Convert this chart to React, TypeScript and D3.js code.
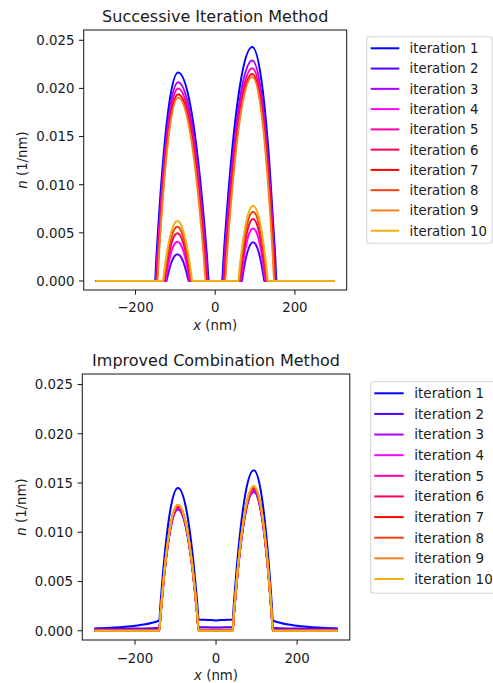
import React from "react";
import * as d3 from "d3";

// Legend labels and line colours, one per iteration
const ITERATION_LABELS = [
  "iteration 1", "iteration 2", "iteration 3", "iteration 4", "iteration 5",
  "iteration 6", "iteration 7", "iteration 8", "iteration 9", "iteration 10",
];
const ITERATION_COLORS = [
  "#0000ff", "#5500ff", "#aa00ff", "#ff00ff", "#ff00aa",
  "#ff0055", "#ff0000", "#f04010", "#f08020", "#eeb010",
];

const X_TICKS = [-200, 0, 200];
const Y_TICKS = [0, 0.005, 0.01, 0.015, 0.02, 0.025];
const X_DOMAIN = [-330, 330];
const Y_DOMAIN = [-0.00094, 0.02607];

// Successive iteration method: density profiles, [x (nm), n (10^-3 / nm)]
const sim1 = [[-300, 0], [-151, 0], [-147.5, 2.51], [-133.6, 11.04], [-116.2, 18.19], [-93, 21.65], [-62.2, 18.19], [-39.1, 11.04], [-20.6, 2.51], [-16, 0],
  [17, 0], [21.6, 2.82], [39.8, 12.39], [62.6, 20.41], [93, 24.3], [117.4, 20.41], [135.7, 12.39], [150.3, 2.82], [154, 0], [300, 0]];
const sim2 = [[-300, 0], [-122, 0], [-120.4, 0.32], [-113.9, 1.41], [-105.8, 2.33], [-95, 2.77], [-83.8, 2.33], [-75.4, 1.41], [-68.7, 0.32], [-67, 0],
  [67, 0], [68.7, 0.47], [75.4, 2.05], [83.8, 3.37], [95, 4.01], [106.2, 3.37], [114.6, 2.05], [121.3, 0.47], [123, 0], [300, 0]];
const sim3 = [[-300, 0], [-149, 0], [-145.6, 2.4], [-132.2, 10.53], [-115.4, 17.35], [-93, 20.65], [-63, 17.35], [-40.5, 10.53], [-22.5, 2.4], [-18, 0],
  [19, 0], [23.4, 2.66], [41.2, 11.68], [63.4, 19.24], [93, 22.9], [116.6, 19.24], [134.3, 11.68], [148.5, 2.66], [152, 0], [300, 0]];
const sim4 = [[-300, 0], [-125, 0], [-123.2, 0.47], [-116, 2.08], [-107, 3.43], [-95, 4.08], [-82.6, 3.43], [-73.3, 2.08], [-65.9, 0.47], [-64, 0],
  [64, 0], [65.9, 0.63], [73.3, 2.78], [82.6, 4.59], [95, 5.46], [107.4, 4.59], [116.7, 2.78], [124.1, 0.63], [126, 0], [300, 0]];
const sim5 = [[-300, 0], [-148, 0], [-144.7, 2.32], [-131.5, 10.2], [-115, 16.8], [-93, 20.0], [-63.8, 16.8], [-41.9, 10.2], [-24.4, 2.32], [-20, 0],
  [21, 0], [25.3, 2.56], [42.6, 11.27], [64.2, 18.56], [93, 22.1], [116.2, 18.56], [133.6, 11.27], [147.5, 2.56], [151, 0], [300, 0]];
const sim6 = [[-300, 0], [-127, 0], [-125.1, 0.57], [-117.4, 2.52], [-107.8, 4.16], [-95, 4.95], [-81.8, 4.16], [-71.9, 2.52], [-64, 0.57], [-62, 0],
  [62, 0], [64, 0.75], [71.9, 3.28], [81.8, 5.4], [95, 6.43], [108.2, 5.4], [118.1, 3.28], [126, 0.75], [128, 0], [300, 0]];
const sim7 = [[-300, 0], [-146, 0], [-142.8, 2.25], [-130.1, 9.89], [-114.2, 16.3], [-93, 19.4], [-64.6, 16.3], [-43.3, 9.89], [-26.3, 2.25], [-22, 0],
  [23, 0], [27.2, 2.49], [44, 10.97], [65, 18.06], [93, 21.5], [115.8, 18.06], [132.9, 10.97], [146.6, 2.49], [150, 0], [300, 0]];
const sim8 = [[-300, 0], [-129, 0], [-127, 0.65], [-118.8, 2.88], [-108.6, 4.74], [-95, 5.64], [-81, 4.74], [-70.5, 2.88], [-62.1, 0.65], [-60, 0],
  [60, 0], [62.1, 0.83], [70.5, 3.67], [81, 6.04], [95, 7.19], [109, 6.04], [119.5, 3.67], [127.9, 0.83], [130, 0], [300, 0]];
const sim9 = [[-300, 0], [-145, 0], [-141.9, 2.21], [-129.4, 9.72], [-113.8, 16.0], [-93, 19.05], [-65.4, 16.0], [-44.7, 9.72], [-28.1, 2.21], [-24, 0],
  [25, 0], [29.1, 2.46], [45.4, 10.81], [65.8, 17.81], [93, 21.2], [115, 17.81], [131.5, 10.81], [144.7, 2.46], [148, 0], [300, 0]];
const sim10 = [[-300, 0], [-131, 0], [-128.8, 0.72], [-120.2, 3.17], [-109.4, 5.22], [-95, 6.22], [-80.2, 5.22], [-69.1, 3.17], [-60.2, 0.72], [-58, 0],
  [58, 0], [60.2, 0.91], [69.1, 3.98], [80.2, 6.56], [95, 7.81], [109.8, 6.56], [120.9, 3.98], [129.8, 0.91], [132, 0], [300, 0]];
const SUCCESSIVE = [sim1, sim2, sim3, sim4, sim5, sim6, sim7, sim8, sim9, sim10];

// Improved combination method: shared x grid (nm) and n (10^-3 / nm) per iteration
const icmX = [-300, -250, -200, -160, -140, -137.2, -126.2, -112.4, -94, -73.6, -58.3, -46.1, -43, -20, 0, 20,
  41, 44.1, 56.6, 72.2, 93, 111.8, 125.9, 137.2, 140, 160, 200, 250, 300];
const icm1 = [0.22, 0.32, 0.5, 0.78, 1.05, 2.65, 7.93, 12.36, 14.5, 12.36, 7.93, 2.65, 1.15, 1.1, 1.05, 1.1,
  1.15, 2.86, 8.85, 13.87, 16.3, 13.87, 8.85, 2.86, 1.05, 0.78, 0.5, 0.32, 0.22];
const icm2 = [0.2, 0.2, 0.22, 0.25, 0.3, 1.43, 6.27, 10.33, 12.3, 10.33, 6.27, 1.43, 0.35, 0.35, 0.33, 0.35,
  0.35, 1.64, 7.19, 11.84, 14.1, 11.84, 7.19, 1.64, 0.3, 0.25, 0.22, 0.2, 0.2];
const icm3 = [0.1, 0.1, 0.1, 0.1, 0.1, 1.44, 6.32, 10.42, 12.4, 10.42, 6.32, 1.44, 0.1, 0.1, 0.1, 0.1,
  0.1, 1.65, 7.24, 11.93, 14.2, 11.93, 7.24, 1.65, 0.1, 0.1, 0.1, 0.1, 0.1];
const icm4 = [0.03, 0.03, 0.03, 0.03, 0.03, 1.45, 6.38, 10.5, 12.5, 10.5, 6.38, 1.45, 0.03, 0.03, 0.03, 0.03,
  0.03, 1.66, 7.29, 12.01, 14.3, 12.01, 7.29, 1.66, 0.03, 0.03, 0.03, 0.03, 0.03];
const icm5 = [0, 0, 0, 0, 0, 1.46, 6.43, 10.58, 12.6, 10.58, 6.43, 1.46, 0, 0, 0, 0,
  0, 1.67, 7.34, 12.1, 14.4, 12.1, 7.34, 1.67, 0, 0, 0, 0, 0];
const icm6 = [0, 0, 0, 0, 0, 1.47, 6.45, 10.63, 12.65, 10.63, 6.45, 1.47, 0, 0, 0, 0,
  0, 1.68, 7.4, 12.18, 14.5, 12.18, 7.4, 1.68, 0, 0, 0, 0, 0];
const icm7 = [0, 0, 0, 0, 0, 1.47, 6.48, 10.67, 12.7, 10.67, 6.48, 1.47, 0, 0, 0, 0,
  0, 1.69, 7.42, 12.22, 14.55, 12.22, 7.42, 1.69, 0, 0, 0, 0, 0];
const icm8 = [0, 0, 0, 0, 0, 1.48, 6.5, 10.71, 12.75, 10.71, 6.5, 1.48, 0, 0, 0, 0,
  0, 1.69, 7.45, 12.26, 14.6, 12.26, 7.45, 1.69, 0, 0, 0, 0, 0];
const icm9 = [0, 0, 0, 0, 0, 1.48, 6.53, 10.75, 12.8, 10.75, 6.53, 1.48, 0, 0, 0, 0,
  0, 1.7, 7.47, 12.31, 14.65, 12.31, 7.47, 1.7, 0, 0, 0, 0, 0];
const icm10 = [0, 0, 0, 0, 0, 1.48, 6.53, 10.75, 12.8, 10.75, 6.53, 1.48, 0, 0, 0, 0,
  0, 1.71, 7.5, 12.35, 14.7, 12.35, 7.5, 1.71, 0, 0, 0, 0, 0];
const IMPROVED = [icm1, icm2, icm3, icm4, icm5, icm6, icm7, icm8, icm9, icm10].map((ys) =>
  ys.map((v, i) => [icmX[i], v])
);

const FONT = "DejaVu Sans, sans-serif";
const TEXT = "#1a1a1a";

type Frame = { left: number; right: number; top: number; bottom: number };
type Legend = { left: number; top: number; width: number; height: number; firstRow: number; rowStep: number; lineX0: number; lineX1: number; textX: number; fontSize: number };

function Panel(props: {
  title: string;
  series: number[][][];
  frame: Frame;
  legend: Legend;
  titleY: number;
  xTickY: number;
  xLabelY: number;
  yLabelX: number;
}) {
  const { title, series, frame, legend } = props;
  const x = d3.scaleLinear().domain(X_DOMAIN).range([frame.left, frame.right]);
  const y = d3.scaleLinear().domain(Y_DOMAIN).range([frame.bottom, frame.top]);
  const line = d3
    .line<number[]>()
    .x((d) => x(d[0]))
    .y((d) => y(d[1] * 1e-3))
    .curve(d3.curveMonotoneX);
  const fmt = d3.format(".3f");
  const tickLen = 4.67;
  const midX = (frame.left + frame.right) / 2;
  const midY = (frame.top + frame.bottom) / 2;

  return (
    <g>
      <text x={midX} y={props.titleY} textAnchor="middle" fontSize={16} fontFamily={FONT} fill={TEXT}>
        {title}
      </text>
      {series.map((pts, i) => (
        <path key={i} d={line(pts) || ""} fill="none" stroke={ITERATION_COLORS[i]} strokeWidth={2} strokeLinejoin="round" />
      ))}
      <rect
        x={frame.left}
        y={frame.top}
        width={frame.right - frame.left}
        height={frame.bottom - frame.top}
        fill="none"
        stroke="#222"
        strokeWidth={1.07}
      />
      {X_TICKS.map((t) => (
        <g key={t}>
          <line x1={x(t)} x2={x(t)} y1={frame.bottom} y2={frame.bottom + tickLen} stroke="#222" strokeWidth={1.07} />
          <text x={x(t)} y={props.xTickY} textAnchor="middle" fontSize={13.33} fontFamily={FONT} fill={TEXT}>
            {t < 0 ? "\u2212" + Math.abs(t) : String(t)}
          </text>
        </g>
      ))}
      {Y_TICKS.map((t) => (
        <g key={t}>
          <line x1={frame.left - tickLen} x2={frame.left} y1={y(t)} y2={y(t)} stroke="#222" strokeWidth={1.07} />
          <text x={frame.left - 9.3} y={y(t) + 4.86} textAnchor="end" fontSize={13.33} fontFamily={FONT} fill={TEXT}>
            {fmt(t)}
          </text>
        </g>
      ))}
      <text x={midX} y={props.xLabelY} textAnchor="middle" fontSize={13.33} fontFamily={FONT} fill={TEXT}>
        <tspan fontStyle="italic">x</tspan> (nm)
      </text>
      <text
        transform={`translate(${props.yLabelX},${midY}) rotate(-90)`}
        textAnchor="middle"
        fontSize={13.33}
        fontFamily={FONT}
        fill={TEXT}
      >
        <tspan fontStyle="italic">n</tspan> (1/nm)
      </text>
      <rect
        x={legend.left}
        y={legend.top}
        width={legend.width}
        height={legend.height}
        rx={2.7}
        fill="#fff"
        fillOpacity={0.8}
        stroke="#d5d5d5"
        strokeWidth={1.07}
      />
      {ITERATION_LABELS.map((lab, i) => {
        const cy = legend.firstRow + i * legend.rowStep;
        return (
          <g key={lab}>
            <line x1={legend.lineX0} x2={legend.lineX1} y1={cy} y2={cy} stroke={ITERATION_COLORS[i]} strokeWidth={2} />
            <text x={legend.textX} y={cy + legend.fontSize * 0.3645} fontSize={legend.fontSize} fontFamily={FONT} fill={TEXT}>
              {lab}
            </text>
          </g>
        );
      })}
    </g>
  );
}

export default function App() {
  return (
    <svg width={493} height={683} style={{ position: "absolute", left: 0, top: 0, background: "#fff" }}>
      <rect width={493} height={683} fill="#fff" />
      <Panel
        title="Successive Iteration Method"
        series={SUCCESSIVE}
        frame={{ left: 83.7, right: 346.7, top: 30, bottom: 290 }}
        legend={{ left: 366.7, top: 36.7, width: 125.6, height: 206.6, firstRow: 48.3, rowStep: 20.27, lineX0: 370.7, lineX1: 399.3, textX: 409.5, fontSize: 13.33 }}
        titleY={22.3}
        xTickY={311.5}
        xLabelY={330}
        yLabelX={27}
      />
      <Panel
        title="Improved Combination Method"
        series={IMPROVED}
        frame={{ left: 82.3, right: 349.8, top: 374, bottom: 640 }}
        legend={{ left: 370.7, top: 381.7, width: 130, height: 211.6, firstRow: 393.3, rowStep: 20.63, lineX0: 374.3, lineX1: 403.7, textX: 414.3, fontSize: 13.5 }}
        titleY={366.3}
        xTickY={662.5}
        xLabelY={680}
        yLabelX={26}
      />
    </svg>
  );
}
